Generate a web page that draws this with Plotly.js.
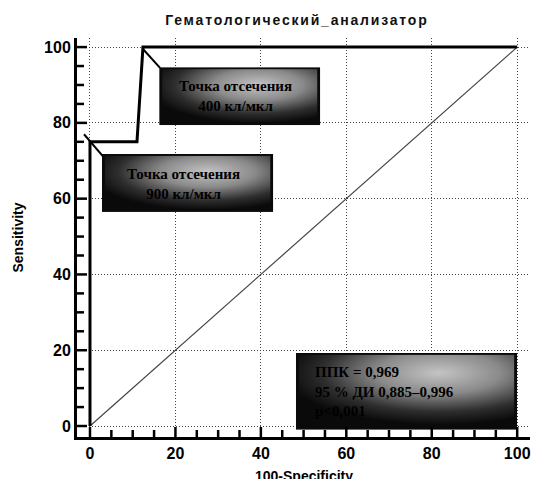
<!DOCTYPE html>
<html>
<head>
<meta charset="utf-8">
<script src="https://cdn.plot.ly/plotly-3.0.1.min.js"></script>
<style>html,body{margin:0;padding:0;background:#fff;}#chart{width:533px;height:479px;}
#chart .gtitle{letter-spacing:1.8px;}
</style>
</head>
<body>
<div id="chart"></div>
<script>
// ROC curve
var specComplement = [0, 0, 11, 12.4, 100];   // 100-Specificity
var sensitivity    = [0, 75, 75, 100, 100];
// reference (chance) line
var refX = [0, 100];
var refY = [0, 100];

var chartTitle = 'Гематологический_анализатор';
var xTitle = '100-Specificity';
var yTitle = 'Sensitivity';
var majorTicks = [0, 20, 40, 60, 80, 100];
var minorStep = 5;
var cutoff400 = ['Точка отсечения', '400 кл/мкл'];
var cutoff900 = ['Точка отсечения', '900 кл/мкл'];
var statsLines = ['ППК = 0,969', '95 % ДИ 0,885–0,996', 'p<0,001'];

var xRange = [-3.04, 103];
var yRange = [-2.9, 102.4];

function boxImg(w, h, cx, cy) {
  var svg = "<svg xmlns='http://www.w3.org/2000/svg' width='" + w + "' height='" + h + "' viewBox='0 0 " + w + " " + h + "' preserveAspectRatio='none'>" +
    "<defs><radialGradient id='g' cx='" + cx + "' cy='" + cy + "' r='0.72'>" +
    "<stop offset='0' stop-color='#c4c4c4'/><stop offset='0.4' stop-color='#8a8a8a'/>" +
    "<stop offset='0.75' stop-color='#2e2e2e'/><stop offset='1' stop-color='#0a0a0a'/></radialGradient></defs>" +
    "<rect x='0' y='0' width='" + w + "' height='" + h + "' fill='#0a0a0a'/>" +
    "<rect x='3' y='2' width='" + (w - 6) + "' height='" + (h - 5) + "' fill='url(#g)'/>" +
    "</svg>";
  return 'data:image/svg+xml;charset=utf-8,' + encodeURIComponent(svg);
}

var traces = [
  { x: refX, y: refY, mode: 'lines', line: { color: '#444', width: 1.2 }, hoverinfo: 'skip' },
  { x: specComplement, y: sensitivity, mode: 'lines', line: { color: '#000', width: 3 } }
];

var labelFont = { family: 'Liberation Sans, Arial, sans-serif', size: 16, color: '#000', weight: 'bold' };
var titleFont = { family: 'Liberation Sans, Arial, sans-serif', size: 14, color: '#000', weight: 'bold' };

function mainAxis(range, title, standoff) {
  var ax = {
    range: range,
    tickmode: 'array', tickvals: majorTicks,
    ticks: '',
    showgrid: true, gridcolor: '#444', gridwidth: 1, griddash: '1px,2px',
    zeroline: false,
    showline: true, linecolor: '#000', linewidth: 3,
    tickfont: labelFont
  };
  if (title) ax.title = { text: title, standoff: standoff, font: titleFont };
  return ax;
}

// inward tick marks along both axes, at the axis tick values
var tickShapes = [];
for (var v = majorTicks[0]; v <= majorTicks[majorTicks.length - 1]; v += minorStep) {
  var len = (majorTicks.indexOf(v) >= 0) ? 10 : 7;
  tickShapes.push({ type: 'line', xref: 'x', yref: 'y', ysizemode: 'pixel', yanchor: yRange[0],
    x0: v, x1: v, y0: 0, y1: len, line: { color: '#000', width: 2.5 }, layer: 'above' });
  tickShapes.push({ type: 'line', xref: 'x', yref: 'y', xsizemode: 'pixel', xanchor: xRange[0],
    y0: v, y1: v, x0: 0, x1: len, line: { color: '#000', width: 2.5 }, layer: 'above' });
}

var layout = {
  width: 533, height: 479,
  margin: { l: 77, r: 3, t: 38, b: 42 },
  paper_bgcolor: '#fff', plot_bgcolor: '#fff',
  showlegend: false,
  title: { text: chartTitle, x: 0.557, xanchor: 'center', y: 0.958, yanchor: 'middle',
    font: { family: 'Liberation Sans, Arial, sans-serif', size: 14, color: '#111', weight: 'bold' } },
  xaxis: mainAxis(xRange, null, 0),
  yaxis: mainAxis(yRange, yTitle, 18),
  images: [
    { source: boxImg(161, 58, 0.62, 0.3), xref: 'x', yref: 'y', x: 16.2, y: 94.7, sizex: 37.7, sizey: 15.3,
      xanchor: 'left', yanchor: 'top', sizing: 'stretch', layer: 'above' },
    { source: boxImg(171, 58, 0.62, 0.3), xref: 'x', yref: 'y', x: 2.8, y: 71.8, sizex: 40.1, sizey: 15.3,
      xanchor: 'left', yanchor: 'top', sizing: 'stretch', layer: 'above' },
    { source: boxImg(221, 77, 0.65, 0.25), xref: 'x', yref: 'y', x: 48.2, y: 19.3, sizex: 51.8, sizey: 20.3,
      xanchor: 'left', yanchor: 'top', sizing: 'stretch', layer: 'above' }
  ],
  shapes: tickShapes.concat([
    { type: 'line', xref: 'x', yref: 'y', x0: 12.4, y0: 99.5, x1: 16.4, y1: 94.5, line: { color: '#000', width: 2 }, layer: 'above' },
    { type: 'line', xref: 'x', yref: 'y', x0: -1.4, y0: 77, x1: 3.0, y1: 71.2, line: { color: '#000', width: 2 }, layer: 'above' }
  ]),
  annotations: [
    { xref: 'paper', yref: 'paper', x: 0.5, y: -0.098, text: xTitle, showarrow: false,
      xanchor: 'center', yanchor: 'middle', font: titleFont },
    { xref: 'x', yref: 'y', x: 34.0, y: 87.0, text: cutoff400.join('<br>'), showarrow: false,
      align: 'center', xanchor: 'center', yanchor: 'middle',
      font: { family: 'Liberation Serif, Times New Roman, serif', size: 15, color: '#000', weight: 'bold' } },
    { xref: 'x', yref: 'y', x: 21.8, y: 64.0, text: cutoff900.join('<br>'), showarrow: false,
      align: 'center', xanchor: 'center', yanchor: 'middle',
      font: { family: 'Liberation Serif, Times New Roman, serif', size: 15, color: '#000', weight: 'bold' } },
    { xref: 'x', yref: 'y', x: 52.2, y: 9.0, text: statsLines.join('<br>'), showarrow: false,
      align: 'left', xanchor: 'left', yanchor: 'middle',
      font: { family: 'Liberation Serif, Times New Roman, serif', size: 15, color: '#000', weight: 'bold' } }
  ]
};

Plotly.newPlot('chart', traces, layout, { displayModeBar: false });
</script>
</body>
</html>
